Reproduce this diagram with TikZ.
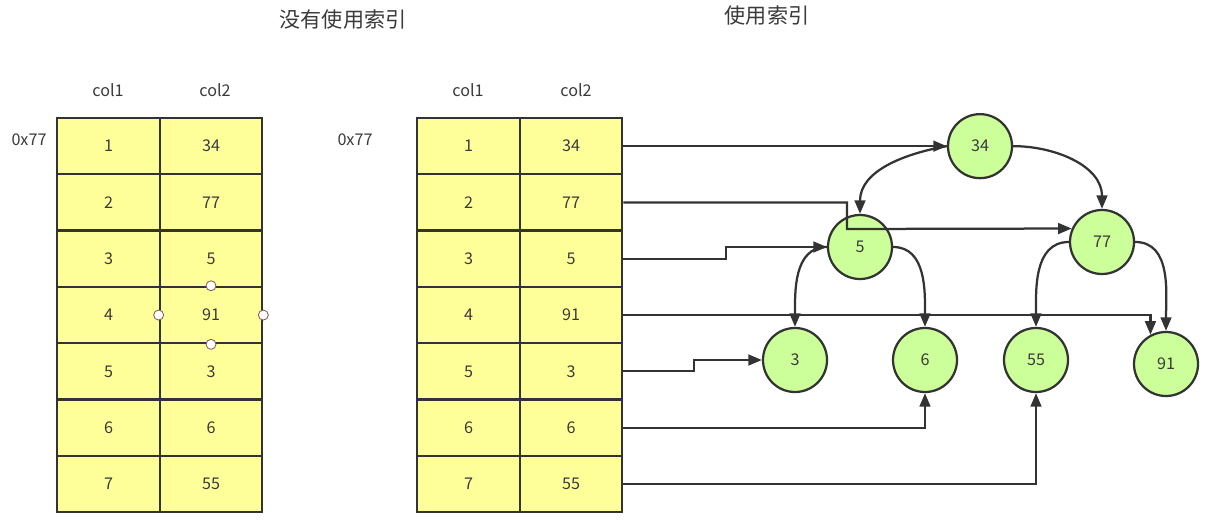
\documentclass[tikz,border=0pt]{standalone}
\usepackage{fontspec}
\setmainfont{Noto Sans CJK SC}
\usetikzlibrary{arrows.meta, positioning, calc}

\definecolor{cellyellow}{HTML}{FFFF99}
\definecolor{nodegreen}{HTML}{CCFF99}
\definecolor{edgegray}{HTML}{333333}
\definecolor{textgray}{HTML}{3A3A3A}
\definecolor{handlered}{HTML}{8C5A5A}

\begin{document}
\begin{tikzpicture}[
  x=0.025cm, y=-0.025cm,
  cell/.style={rectangle, draw=edgegray, line width=1.6pt, fill=cellyellow,
               minimum width=2.56cm, minimum height=1.4075cm, inner sep=0pt,
               font=\fontsize{11.5}{13}\selectfont, text=textgray},
  tnode/.style={circle, draw=edgegray, line width=1.6pt, fill=nodegreen,
                minimum size=1.6cm, inner sep=0pt,
                font=\fontsize{11.5}{13}\selectfont, text=textgray},
  link/.style={-{Triangle[length=3.4mm, width=2.7mm]}, line width=1.6pt, edgegray},
  handle/.style={circle, draw=handlered, fill=white, line width=0.6pt,
                 minimum size=0.25cm, inner sep=0pt},
  colhead/.style={font=\fontsize{11.5}{13}\selectfont, text=textgray},
  titletext/.style={font=\fontsize{15}{18}\selectfont, text=textgray}
]
\useasboundingbox (0,0) rectangle (1210,525);

% Titles and headers
\node[titletext] (ltitle) at (343,20) {没有使用索引};
\node[titletext] (rtitle) at (767,16) {使用索引};
\node[colhead] (lh1) at (108,90) {col1};
\node[colhead] (lh2) at (215,90) {col2};
\node[colhead] (rh1) at (468,90) {col1};
\node[colhead] (rh2) at (576,90) {col2};
\node[colhead] (laddr) at (29,140) {0x77};
\node[colhead] (raddr) at (355,140) {0x77};

% Left table: no index
\node[cell] (lk1) at (108.5,146.15) {1};
\node[cell] (lv1) at (211,146.15) {34};
\node[cell] (lk2) at (108.5,202.45) {2};
\node[cell] (lv2) at (211,202.45) {77};
\node[cell] (lk3) at (108.5,258.75) {3};
\node[cell] (lv3) at (211,258.75) {5};
\node[cell] (lk4) at (108.5,315.05) {4};
\node[cell] (lv4) at (211,315.05) {91};
\node[cell] (lk5) at (108.5,371.35) {5};
\node[cell] (lv5) at (211,371.35) {3};
\node[cell] (lk6) at (108.5,427.65) {6};
\node[cell] (lv6) at (211,427.65) {6};
\node[cell] (lk7) at (108.5,483.95) {7};
\node[cell] (lv7) at (211,483.95) {55};

% Right table: with index
\node[cell] (rk1) at (468.5,146.15) {1};
\node[cell] (rv1) at (571,146.15) {34};
\node[cell] (rk2) at (468.5,202.45) {2};
\node[cell] (rv2) at (571,202.45) {77};
\node[cell] (rk3) at (468.5,258.75) {3};
\node[cell] (rv3) at (571,258.75) {5};
\node[cell] (rk4) at (468.5,315.05) {4};
\node[cell] (rv4) at (571,315.05) {91};
\node[cell] (rk5) at (468.5,371.35) {5};
\node[cell] (rv5) at (571,371.35) {3};
\node[cell] (rk6) at (468.5,427.65) {6};
\node[cell] (rv6) at (571,427.65) {6};
\node[cell] (rk7) at (468.5,483.95) {7};
\node[cell] (rv7) at (571,483.95) {55};

% Index tree
\node[tnode] (t34) at (980,146.15) {34};
\node[tnode] (t5) at (860,247) {5};
\node[tnode] (t77) at (1102,242) {77};
\node[tnode] (t3) at (795,360) {3};
\node[tnode] (t6) at (925,360) {6};
\node[tnode] (t55) at (1036,360) {55};
\node[tnode] (t91) at (1166,364) {91};

\draw[link] (t34.west) to[out=190, in=90] (t5.north);
\draw[link] (t34.east) to[out=0, in=90] (t77.north);
\draw[link] (t5.west) to[out=180, in=90] (t3.north);
\draw[link] (t5.east) to[out=0, in=90] (t6.north);
\draw[link] (t77.west) to[out=180, in=90] (t55.north);
\draw[link] (t77.east) to[out=0, in=90] (t91.north);

% Row pointers
\coordinate (k2) at (847,229);
\coordinate (k3) at (726,247);
\coordinate (k5) at (694,360);
\draw[link] (rv1.east) -- (t34.west);
\draw[link] (rv2.east) -| (k2) -- (t77.156);
\draw[link] (rv3.east) -| (k3) -- (t5.west);
\draw[link] (rv4.east) -| (t91.118);
\draw[link] (rv5.east) -| (k5) -- (t3.west);
\draw[link] (rv6.east) -| (t6.south);
\draw[link] (rv7.east) -| (t55.south);

% Selection handles
\node[handle] (hn) at (lv4.north) {};
\node[handle] (hs) at (lv4.south) {};
\node[handle] (hw) at (lv4.west) {};
\node[handle] (he) at (lv4.east) {};

\end{tikzpicture}
\end{document}
